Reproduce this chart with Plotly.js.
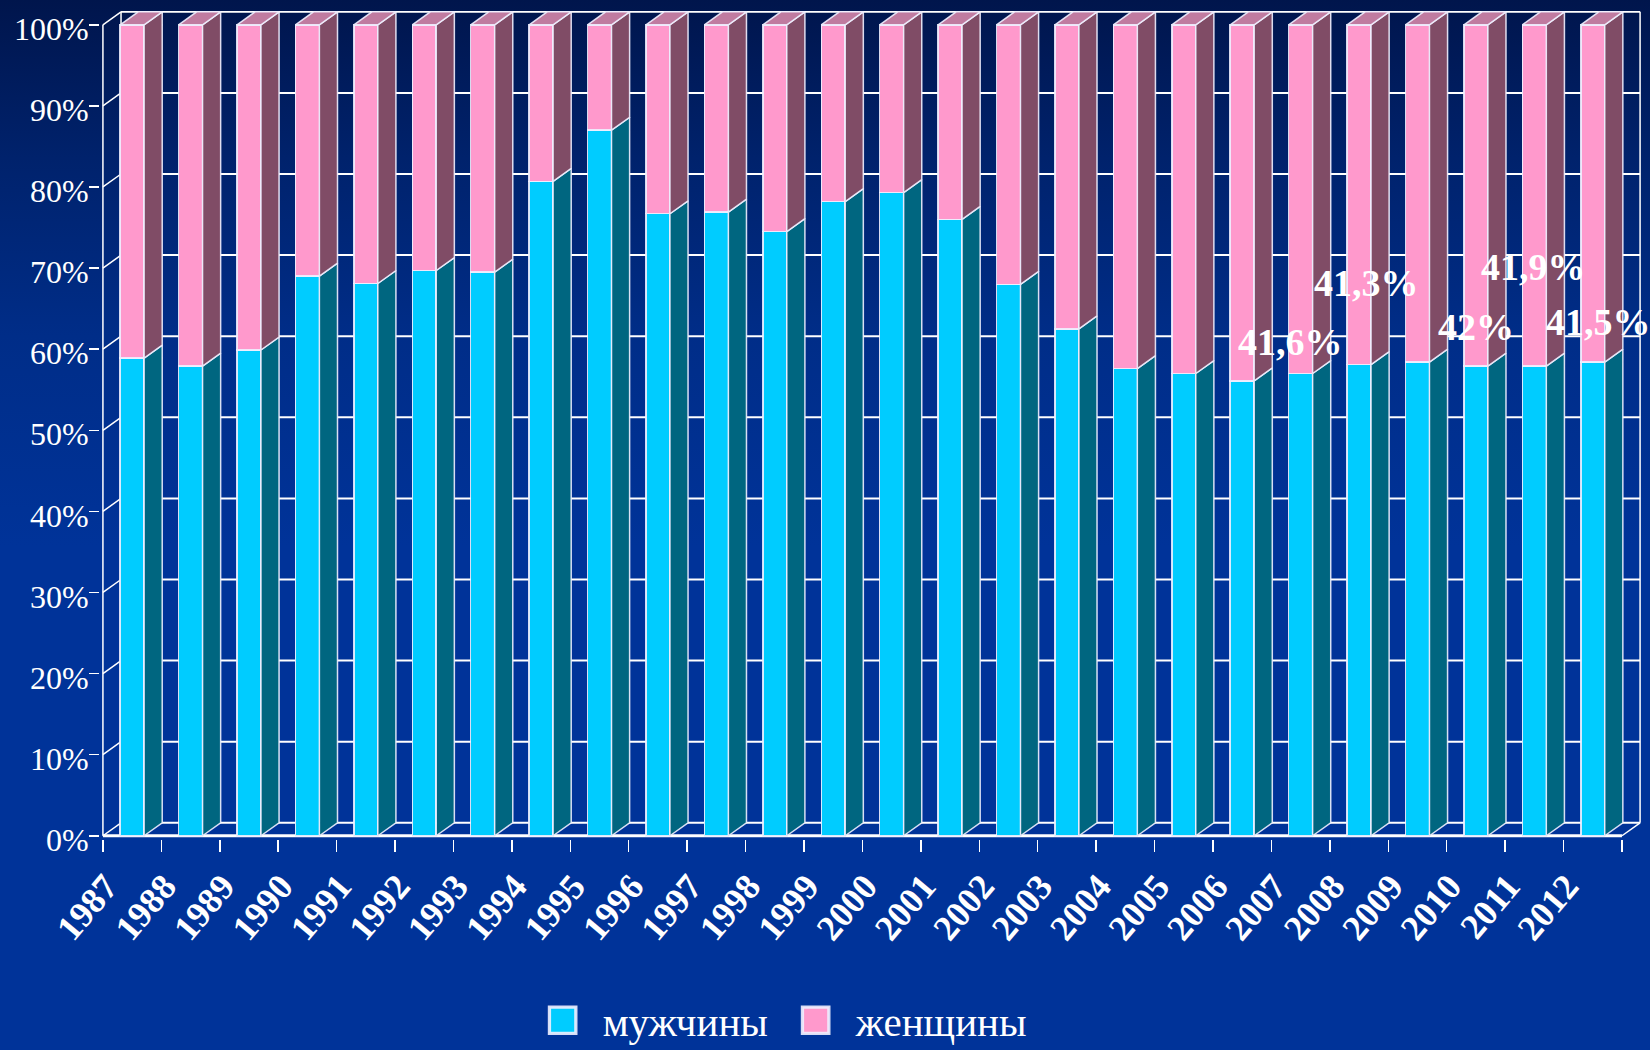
<!DOCTYPE html>
<html><head><meta charset="utf-8">
<script src="https://cdn.plot.ly/plotly-3.0.1.min.js"></script>
<style>
html,body{margin:0;padding:0;width:1650px;height:1050px;overflow:hidden;
background: linear-gradient(to bottom, #00154c 0%, #00226c 15%, #002d88 32%, #003399 52%, #003399 100%);}
#chart{width:1650px;height:1050px;}
.legend .legendpoints path{transform-box:fill-box;transform-origin:center;transform:scale(2.2);}
.legend .scrollbox, .legend [clip-path]{clip-path:none !important;}
</style></head><body><div id="chart"></div>
<script>
// ---- data ----
const years = ['1987','1988','1989','1990','1991','1992','1993','1994','1995','1996','1997','1998','1999',
               '2000','2001','2002','2003','2004','2005','2006','2007','2008','2009','2010','2011','2012'];
const men   = [58.9, 57.9, 59.9, 69.0, 68.1, 69.7, 69.5, 80.7, 87.0, 76.7, 76.9, 74.5, 78.2,
               79.3, 76.0, 68.0, 62.5, 57.6, 57.0, 56.1, 57.0, 58.1, 58.4, 57.9, 57.9, 58.4];
const women = [41.1, 42.1, 40.1, 31.0, 31.9, 30.3, 30.5, 19.3, 13.0, 23.3, 23.1, 25.5, 21.8,
               20.7, 24.0, 32.0, 37.5, 42.4, 43.0, 43.9, 43.0, 41.9, 41.6, 42.1, 42.1, 41.6];
const yTicks = [0, 10, 20, 30, 40, 50, 60, 70, 80, 90, 100];
const noteTexts = ['41,6%', '41,3%', '42%', '41,9%', '41,5%'];

// ---- 3D look parameters ----
const W = 0.41, H = W / 2, DX = 0.31, DY = 1.6;
const XL = -0.5, XR = years.length - 0.5;
const xs = years.map((_, i) => i);

const menSX = [], menSY = [], womSX = [], womSY = [], topX = [], topY = [];
xs.forEach((x, i) => {
  const m = men[i], t = men[i] + women[i], r = x + H, l = x - H;
  menSX.push(r, r + DX, r + DX, r, r, null);
  menSY.push(0, DY, m + DY, m, 0, null);
  womSX.push(r, r + DX, r + DX, r, r, null);
  womSY.push(m, m + DY, t + DY, t, m, null);
  topX.push(l, l + DX, r + DX, r, l, null);
  topY.push(t, t + DY, t + DY, t, t, null);
});

const edge = {color: 'rgba(240,240,255,0.9)', width: 1.5};
const traces = [
  {type: 'bar', x: xs, y: men, width: W, name: 'мужчины',
   marker: {color: '#00CCFF', line: edge}, hoverinfo: 'skip'},
  {type: 'bar', x: xs, y: women, width: W, name: 'женщины',
   marker: {color: '#FF99CC', line: edge}, hoverinfo: 'skip'},
  {type: 'scatter', mode: 'lines', x: menSX, y: menSY, fill: 'toself', fillcolor: '#006680',
   line: edge, showlegend: false, hoverinfo: 'skip'},
  {type: 'scatter', mode: 'lines', x: womSX, y: womSY, fill: 'toself', fillcolor: '#804C66',
   line: edge, showlegend: false, hoverinfo: 'skip'},
  {type: 'scatter', mode: 'lines', x: topX, y: topY, fill: 'toself', fillcolor: '#C07BA0',
   line: edge, showlegend: false, hoverinfo: 'skip'}
];

// ---- walls / gridlines (axis decoration) ----
const wl = (x0, y0, x1, y1, w) => ({type: 'line', xref: 'x', yref: 'y', x0, y0, x1, y1, layer: 'below',
  line: {color: 'white', width: w || 2}});
const shapes = [];
yTicks.forEach(v => {
  shapes.push(wl(XL + DX, v + DY, XR + DX, v + DY, 2));
  shapes.push(wl(XL, v, XL + DX, v + DY, 1.5));
});
shapes.push(wl(XL, 0, XL, 100, 1.5));
shapes.push(wl(XL + DX, DY, XL + DX, 100 + DY, 1.5));
shapes.push(wl(XR + DX, DY, XR + DX, 100 + DY, 1.5));
shapes.push(wl(XL, 0, XR, 0, 3));
shapes.push(wl(XR, 0, XR + DX, DY, 1.5));

const notePos = [[19.83, 60.9], [21.13, 68.1], [23.0, 62.7], [23.99, 70.1], [25.1, 63.4]];
const annotations = noteTexts.map((t, k) => ({
  x: notePos[k][0], y: notePos[k][1], xref: 'x', yref: 'y', text: t, showarrow: false,
  font: {family: 'Liberation Serif', size: 38, color: 'white', weight: 'bold'}
}));

const boundaries = years.map((_, i) => i - 0.5).concat([XR]);

const layout = {
  width: 1650, height: 1050,
  margin: {l: 100, r: 7, t: 11, b: 211, autoexpand: false},
  paper_bgcolor: 'rgba(0,0,0,0)', plot_bgcolor: 'rgba(0,0,0,0)',
  barmode: 'stack', bargap: 0,
  showlegend: true,
  legend: {orientation: 'h', x: 0.341, xanchor: 'left', xref: 'container',
           y: 0.028, yanchor: 'middle', yref: 'container',
           itemwidth: 30, entrywidth: 208, entrywidthmode: 'pixels',
           font: {family: 'Liberation Serif', size: 41, color: 'white'}, bgcolor: 'rgba(0,0,0,0)',
           traceorder: 'normal'},
  xaxis: {range: [-0.55, XR + DX + 0.05], tickmode: 'array', tickvals: xs.map(i => i - 0.45), ticktext: years,
          ticks: '', tickangle: -50, ticklabelstandoff: 18, automargin: false,
          tickfont: {family: 'Liberation Serif', size: 36, color: 'white', weight: 'bold'},
          minor: {tickmode: 'array', tickvals: boundaries, ticks: 'outside', ticklen: 12,
                  tickcolor: 'white', tickwidth: 1.5, showgrid: false},
          showgrid: false, zeroline: false, showline: false, fixedrange: true},
  yaxis: {range: [-0.4, 100 + DY + 0.1], tickmode: 'array', tickvals: yTicks, ticktext: yTicks.map(v => v + '%'),
          ticks: 'outside', ticklen: 10, tickcolor: 'white', tickwidth: 1.5, ticklabelstandoff: -6,
          ticklabelshift: 4, automargin: false,
          tickfont: {family: 'Liberation Serif', size: 32, color: 'white'},
          showgrid: false, zeroline: false, showline: false, fixedrange: true},
  shapes: shapes,
  annotations: annotations
};

Plotly.newPlot('chart', traces, layout, {displayModeBar: false, staticPlot: true});
</script>
</body></html>
